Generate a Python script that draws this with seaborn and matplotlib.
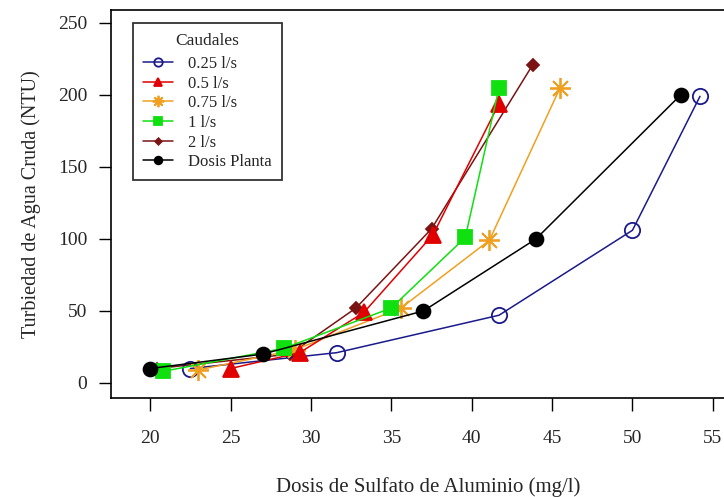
import matplotlib
matplotlib.use("Agg")
import matplotlib.pyplot as plt
import seaborn as sns

# series (dose mg/l, turbidity NTU)
dose_025 = [22.5, 31.6, 41.7, 50.0, 54.2]
turb_025 = [10, 21, 47, 106, 199]

dose_05 = [25.0, 29.3, 33.3, 37.6, 41.7]
turb_05 = [10, 21, 49, 103, 194]

dose_075 = [23.0, 29.0, 35.6, 41.1, 45.5]
turb_075 = [9, 23, 52, 99, 205]

dose_1 = [20.8, 28.3, 35.0, 39.6, 41.7]
turb_1 = [8, 24, 52, 101, 205]

dose_2 = [20.4, 28.7, 32.8, 37.5, 43.8]
turb_2 = [10, 20, 52, 107, 221]

dose_planta = [20, 27, 37, 44, 53]
turb_planta = [10, 20, 50, 100, 200]

labels = ["0.25 l/s", "0.5 l/s", "0.75 l/s", "1 l/s", "2 l/s", "Dosis Planta"]
x_ticks = [20, 25, 30, 35, 40, 45, 50, 55]
y_ticks = [0, 50, 100, 150, 200, 250]

sns.set_style("ticks")
plt.rcParams["font.family"] = ["Liberation Serif", "DejaVu Serif"]

fig = plt.figure(figsize=(7.24, 4.97), dpi=100)
ax = fig.add_axes([0.153, 0.200, 0.876, 0.780])

styles = [
    # dose, turb, label, color, marker, size, face, zorder
    (dose_2, turb_2, labels[4], "#7a1414", "D", 6, None, 2),
    (dose_025, turb_025, labels[0], "#1a1a8c", "o", 11, "none", 3),
    (dose_05, turb_05, labels[1], "#e00000", "^", 11, None, 4),
    (dose_075, turb_075, labels[2], "#f0a020", (8, 2, 0), 15, None, 3),
    (dose_1, turb_1, labels[3], "#10e010", "s", 10, None, 4),
    (dose_planta, turb_planta, labels[5], "black", "o", 10, None, 5),
]

for x, y, lab, col, mk, ms, face, z in styles:
    sns.lineplot(x=x, y=y, sort=False, ax=ax, label=lab, color=col,
                 marker=mk, markersize=ms, linewidth=1.1,
                 markeredgecolor=col, markeredgewidth=1.3,
                 markerfacecolor=col if face is None else face, zorder=z)

ax.set_xlim(17.55, 57.0)
ax.set_ylim(-10.2, 259)
ax.set_xticks(x_ticks)
ax.set_yticks(y_ticks)
ax.tick_params(axis="both", direction="out", length=9, width=1.0,
               labelsize=14, color="black")
ax.tick_params(axis="x", pad=14)
ax.tick_params(axis="y", pad=8)
for side in ["left", "bottom", "top", "right"]:
    ax.spines[side].set_visible(True)
    ax.spines[side].set_color("black")
    ax.spines[side].set_linewidth(1.2)

ax.set_xlabel("Dosis de Sulfato de Aluminio (mg/l)", fontsize=15, labelpad=22)
ax.set_ylabel("Turbiedad de Agua Cruda (NTU)", fontsize=14.5, labelpad=12)

handles, labs = ax.get_legend_handles_labels()
order = [labs.index(l) for l in labels]
leg = ax.legend([handles[i] for i in order], [labs[i] for i in order],
                title="Caudales", loc="upper left",
                bbox_to_anchor=(133 / 724, 1 - 23 / 497),
                bbox_transform=fig.transFigure, borderaxespad=0,
                fontsize=12, title_fontsize=12.5, markerscale=0.55,
                handlelength=1.8, handletextpad=0.9, labelspacing=0.22,
                frameon=True, fancybox=False, edgecolor="black",
                borderpad=0.6)
leg._legend_box.sep = 5
leg.get_frame().set_linewidth(1.3)

fig.savefig("out.png", dpi=100)
